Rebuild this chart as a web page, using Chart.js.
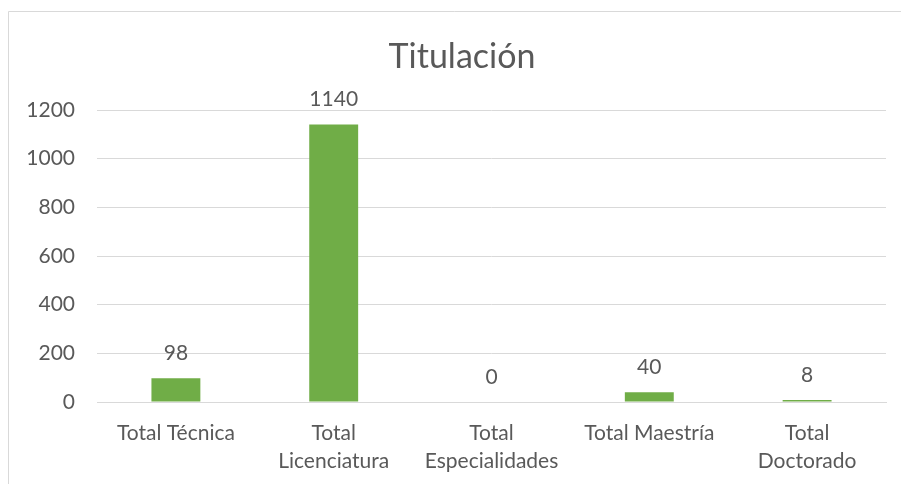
<!DOCTYPE html>
<html><head><meta charset="utf-8">
<script src="https://cdn.jsdelivr.net/npm/chart.js@4"></script>
<style>html,body{margin:0;padding:0;background:#fff;}#wrap{position:relative;width:901px;height:484px;}</style>
</head><body><div id="wrap"><canvas id="c" width="901" height="484"></canvas></div>
<script>
const categories = [["Total Técnica"], ["Total", "Licenciatura"], ["Total", "Especialidades"], ["Total Maestría"], ["Total", "Doctorado"]];
const values = [98, 1140, 0, 40, 8];
const yTicks = [0, 200, 400, 600, 800, 1000, 1200];
const titleText = "Titulación";
const FONT = "Lato, 'Open Sans', sans-serif";
const TXT = "#595959";

const extras = {
  id: "extras",
  beforeDraw(chart) {
    const ctx = chart.ctx;
    ctx.save();
    ctx.fillStyle = "#fff";
    ctx.fillRect(0, 0, chart.width, chart.height);
    ctx.strokeStyle = "#d9d9d9";
    ctx.lineWidth = 1;
    ctx.beginPath();
    ctx.moveTo(8.5, chart.height);
    ctx.lineTo(8.5, 11.5);
    ctx.lineTo(chart.width, 11.5);
    ctx.stroke();
    ctx.restore();
  },
  afterDraw(chart) {
    const ctx = chart.ctx;
    ctx.save();
    ctx.fillStyle = TXT;
    ctx.textAlign = "center";
    ctx.textBaseline = "middle";
    ctx.font = "34px " + FONT;
    ctx.fillText(titleText, 462, 57);
    ctx.font = "21px " + FONT;
    const meta = chart.getDatasetMeta(0);
    meta.data.forEach((bar, i) => {
      ctx.fillText(String(values[i]), bar.x, bar.y - 25);
    });
    ctx.restore();
  }
};

new Chart(document.getElementById("c"), {
  type: "bar",
  data: {
    labels: categories,
    datasets: [{ data: values, backgroundColor: "#70AD47", barPercentage: 0.31, categoryPercentage: 1.0 }]
  },
  options: {
    responsive: false,
    animation: false,
    layout: { padding: { top: 110, right: 15, left: 0, bottom: 0 } },
    plugins: { legend: { display: false }, title: { display: false }, tooltip: { enabled: false } },
    scales: {
      x: {
        grid: { display: false, drawTicks: false },
        border: { display: true, color: "#d9d9d9", width: 1 },
        ticks: { color: TXT, font: { family: FONT, size: 21, lineHeight: 1.3 }, padding: 18, maxRotation: 0, autoSkip: false },
        afterFit(s) { s.height = 82; }
      },
      y: {
        min: 0, max: 1200,
        afterBuildTicks(s) { s.ticks = yTicks.map(v => ({ value: v })); },
        grid: { color: "#d9d9d9", drawTicks: false },
        border: { display: false },
        ticks: { color: TXT, font: { family: FONT, size: 21 }, padding: 22, callback: v => String(v) },
        afterFit(s) { s.width = 97; }
      }
    }
  },
  plugins: [extras]
});
</script></body></html>
